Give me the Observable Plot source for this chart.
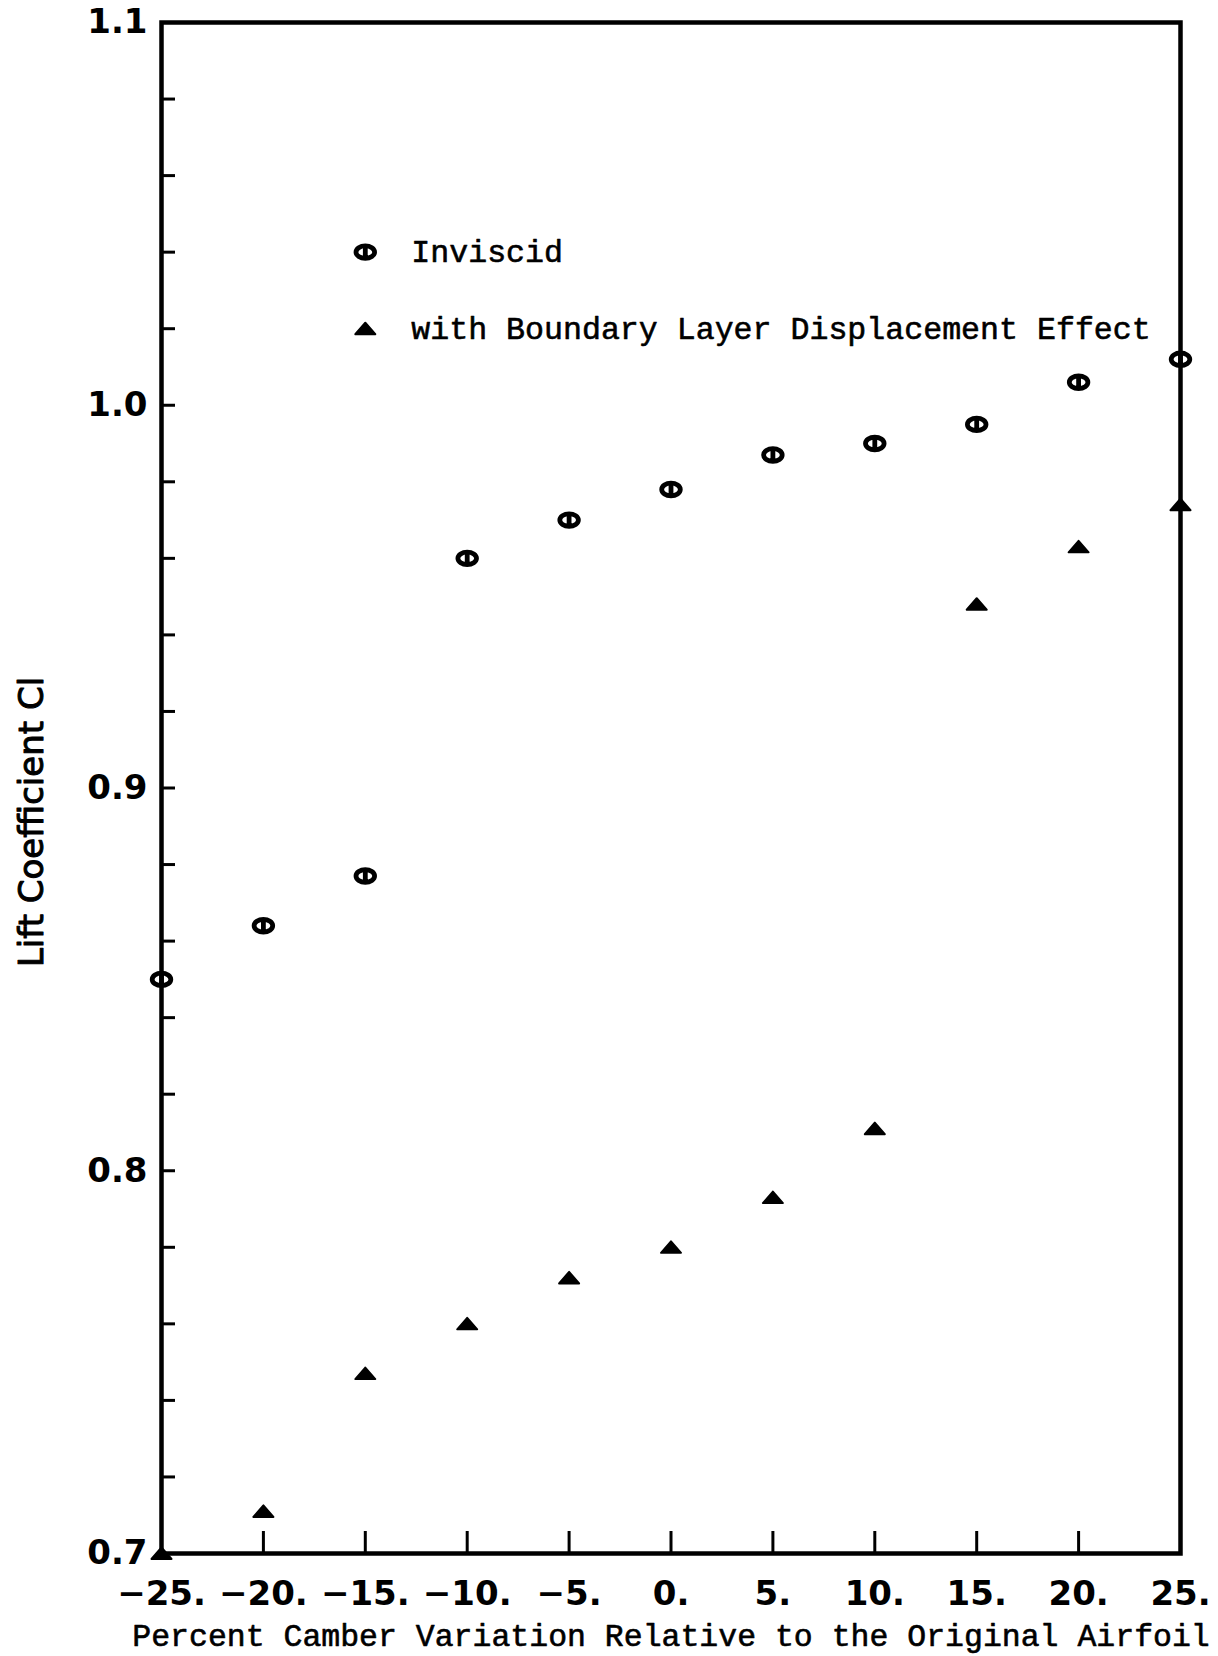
<!DOCTYPE html>
<html>
<head>
<meta charset="utf-8">
<script src="https://cdn.jsdelivr.net/npm/d3@7"></script>
<script src="https://cdn.jsdelivr.net/npm/@observablehq/plot@0.6"></script>
<style>
  html, body { margin: 0; padding: 0; background: #fff; }
  #chart svg { display: block; }
</style>
</head>
<body>
<div id="chart"></div>
<script>
// ---- data ----
const camber = [-25, -20, -15, -10, -5, 0, 5, 10, 15, 20, 25];
const inviscid = [0.850, 0.864, 0.877, 0.960, 0.970, 0.978, 0.987, 0.990, 0.995, 1.006, 1.012];
const withBoundaryLayer = [0.700, 0.711, 0.747, 0.760, 0.772, 0.780, 0.793, 0.811, 0.948, 0.963, 0.974];
const xTickValues = [-25, -20, -15, -10, -5, 0, 5, 10, 15, 20, 25];
const yTickLabels = [0.7, 0.8, 0.9, 1.0, 1.1];
const yMinorTicks = [0.72, 0.74, 0.76, 0.78, 0.80, 0.82, 0.84, 0.86, 0.88, 0.90, 0.92, 0.94, 0.96, 0.98, 1.00, 1.02, 1.04, 1.06, 1.08];
const seriesNames = ["Inviscid", "with Boundary Layer Displacement Effect"];
const xLabel = "Percent Camber Variation Relative to the Original Airfoil";
const yLabel = "Lift Coefficient Cl";

// ---- layout ----
const W = 1218, H = 1656;
const mL = 161, mR = 38, mT = 22, mB = 103;
const plotW = W - mL - mR, plotH = H - mT - mB;

// ---- custom symbols ----
const K = 0.5523;
const thetaSymbol = {
  draw(ctx) {
    const rx = 9.3, ry = 6.3;
    ctx.moveTo(rx, 0);
    ctx.bezierCurveTo(rx, ry * K, rx * K, ry, 0, ry);
    ctx.bezierCurveTo(-rx * K, ry, -rx, ry * K, -rx, 0);
    ctx.bezierCurveTo(-rx, -ry * K, -rx * K, -ry, 0, -ry);
    ctx.bezierCurveTo(rx * K, -ry, rx, -ry * K, rx, 0);
    ctx.closePath();
    ctx.moveTo(0, -ry);
    ctx.lineTo(0, ry);
  }
};
const triSymbol = {
  draw(ctx) {
    ctx.moveTo(-10, 5.5);
    ctx.lineTo(10, 5.5);
    ctx.lineTo(0, -6);
    ctx.closePath();
  }
};

const invData = camber.map((x, i) => ({x, y: inviscid[i]}));
const blData = camber.map((x, i) => ({x, y: withBoundaryLayer[i]}));
const legend = seriesNames.map((name, i) => ({name, i, x: -15, y: 1.04 - 0.02 * i}));

const fmtX = d => (d < 0 ? "\u2212" : "") + Math.abs(d) + ".";
const fmtY = d => d.toFixed(1);

const sans = "'DejaVu Sans', Verdana, sans-serif";
const mono = "'Liberation Mono', 'Courier New', monospace";

const chart = Plot.plot({
  width: W,
  height: H,
  marginLeft: mL,
  marginRight: mR,
  marginTop: mT,
  marginBottom: mB,
  style: {fontFamily: sans, background: "#fff", color: "#000"},
  x: {domain: [-25, 25], axis: null},
  y: {domain: [0.7, 1.1], axis: null},
  marks: [
    // minor y ticks (inward)
    Plot.tickY(yMinorTicks, {y: d => d, stroke: "#000", strokeWidth: 3, insetRight: plotW - 14}),
    // x ticks (inward from bottom)
    Plot.tickX(xTickValues.slice(1, -1), {x: d => d, stroke: "#000", strokeWidth: 3, insetTop: plotH - 22}),
    Plot.frame({stroke: "#000", strokeWidth: 4.5}),
    // y tick labels
    Plot.text(yTickLabels, {y: d => d, frameAnchor: "left", dx: -14, textAnchor: "end", lineAnchor: "middle",
      text: fmtY, fontSize: 34, fontWeight: "bold", fill: "#000", fontFamily: sans}),
    // x tick labels
    Plot.text(xTickValues, {x: d => d, frameAnchor: "bottom", dy: 41, textAnchor: "middle", lineAnchor: "middle",
      text: fmtX, fontSize: 34, fontWeight: "bold", fill: "#000", fontFamily: sans,
      letterSpacing: 1}),
    // axis labels
    Plot.text([xLabel], {frameAnchor: "bottom", dy: 82, textAnchor: "middle", lineAnchor: "middle",
      text: d => d, fontSize: 31.5, fontFamily: mono, fill: "#000", stroke: "#000", strokeWidth: 0.6}),
    Plot.text([yLabel], {frameAnchor: "left", dx: -129, dy: 34, rotate: -90, textAnchor: "middle",
      lineAnchor: "middle", text: d => d, fontSize: 34, fontFamily: sans, fill: "#000",
      stroke: "#000", strokeWidth: 1}),
    // data
    Plot.dot(invData, {x: "x", y: "y", symbol: thetaSymbol, r: 9, fill: "none", stroke: "#000", strokeWidth: 4.8}),
    Plot.dot(blData, {x: "x", y: "y", symbol: triSymbol, r: 9, fill: "#000", stroke: "#000", strokeWidth: 2, strokeLinejoin: "round"}),
    // legend
    Plot.dot(legend.filter(d => d.i === 0), {x: "x", y: "y", symbol: thetaSymbol, r: 9, fill: "none", stroke: "#000", strokeWidth: 4.8}),
    Plot.dot(legend.filter(d => d.i === 1), {x: "x", y: "y", symbol: triSymbol, r: 9, fill: "#000", stroke: "#000", strokeWidth: 2, strokeLinejoin: "round"}),
    Plot.text(legend, {x: "x", y: "y", text: "name", dx: 46, textAnchor: "start", lineAnchor: "middle",
      fontSize: 31.6, fontFamily: mono, fill: "#000", stroke: "#000", strokeWidth: 0.6})
  ]
});
document.getElementById("chart").appendChild(chart);
</script>
</body>
</html>
